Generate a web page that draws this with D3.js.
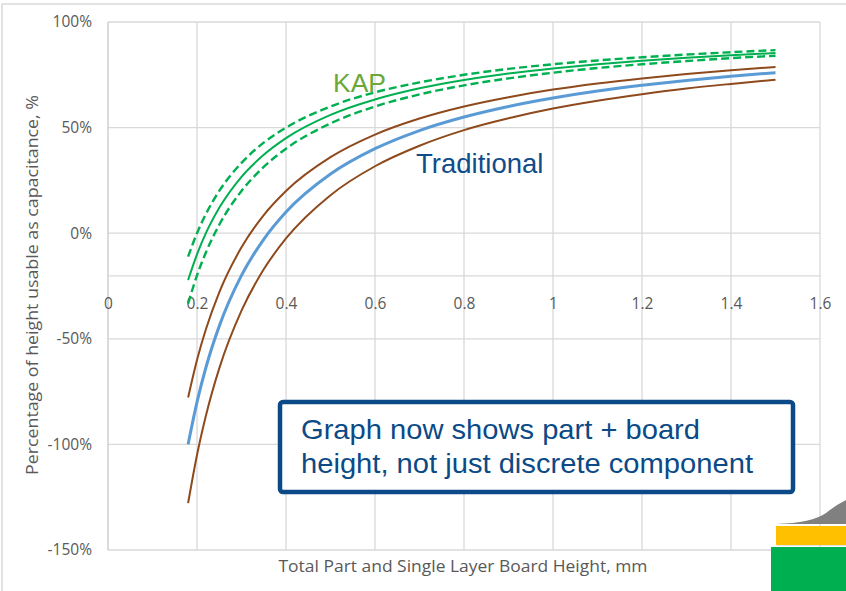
<!DOCTYPE html>
<html>
<head>
<meta charset="utf-8">
<script src="https://cdn.jsdelivr.net/npm/d3@7"></script>
<style>
  body { margin: 0; background: #fff; }
  svg { display: block; }
  .tick text { fill: #595959; font-family: "Open Sans", sans-serif; font-size: 15.5px; }
</style>
</head>
<body>
<div id="chart"></div>
<script>
// part + board height, mm
var heights = [0.18, 0.2, 0.22, 0.25, 0.3, 0.35, 0.4, 0.5, 0.6, 0.7, 0.8, 0.9, 1.0, 1.1, 1.2, 1.3, 1.4, 1.5];

// percentage of height usable as capacitance
var kapHigh  = [-11.1, 0, 9.1, 20, 33.3, 42.9, 50, 60, 66.7, 71.4, 75, 77.8, 80, 81.8, 83.3, 84.6, 85.7, 86.7];
var kapMid   = [-22.2, -10, 0, 12, 26.7, 37.1, 45, 56, 63.3, 68.6, 72.5, 75.6, 78, 80, 81.7, 83.1, 84.3, 85.3];
var kapLow   = [-33.3, -20, -9.1, 4, 20, 31.4, 40, 52, 60, 65.7, 70, 73.3, 76, 78.2, 80, 81.5, 82.9, 84];
var tradHigh = [-77.8, -60, -45.5, -28, -6.7, 8.6, 20, 36, 46.7, 54.3, 60, 64.4, 68, 70.9, 73.3, 75.4, 77.1, 78.7];
var tradMid  = [-100, -80, -63.6, -44, -20, -2.9, 10, 28, 40, 48.6, 55, 60, 64, 67.3, 70, 72.3, 74.3, 76];
var tradLow  = [-127.8, -105, -86.4, -64, -36.7, -17.1, -2.5, 18, 31.7, 41.4, 48.8, 54.4, 59, 62.7, 65.8, 68.5, 70.7, 72.7];

var xTicks = [0, 0.2, 0.4, 0.6, 0.8, 1, 1.2, 1.4, 1.6];
var yTicks = [-150, -100, -50, 0, 50, 100];

var W = 846, H = 591;
var svg = d3.select("#chart").append("svg").attr("width", W).attr("height", H);

// chart area frame
svg.append("rect").attr("x", 2).attr("y", 4).attr("width", 900).attr("height", 700)
	.attr("fill", "#fff").attr("stroke", "#d9d9d9").attr("stroke-width", 1.5);

var x = d3.scaleLinear().domain([0, 1.6]).range([108, 820]);
var y = d3.scaleLinear().domain([-150, 100]).range([550, 22]);

// grid
svg.append("g").selectAll("line").data(yTicks).enter().append("line")
	.attr("x1", x(0)).attr("x2", x(1.6))
	.attr("y1", d => y(d)).attr("y2", d => y(d))
	.attr("stroke", "#d9d9d9").attr("stroke-width", 1.3);
svg.append("g").selectAll("line").data(xTicks).enter().append("line")
	.attr("x1", d => x(d)).attr("x2", d => x(d))
	.attr("y1", y(100)).attr("y2", y(-150))
	.attr("stroke", d => d == 0 ? "#c8c8c8" : "#d9d9d9").attr("stroke-width", 1.3);

// axes: x crosses at -20%
var xAxis = svg.append("g").attr("transform", "translate(0," + y(-20) + ")")
	.call(d3.axisBottom(x).tickValues(xTicks).tickSize(0).tickPadding(23).tickFormat(d3.format("~g")));
xAxis.select(".domain").attr("stroke", "#d9d9d9").attr("stroke-width", 1.3);

var yAxis = svg.append("g").attr("transform", "translate(" + x(0) + ",0)")
	.call(d3.axisLeft(y).tickValues(yTicks).tickSize(0).tickPadding(16).tickFormat(d => d + "%"));
yAxis.select(".domain").remove();

// curves
var line = d3.line()
	.x((d, i) => x(heights[i]))
	.y(d => y(d))
	.curve(d3.curveMonotoneX);

var series = [
	{v: kapHigh,  color: "#00b050", w: 2.4, dash: "8,4"},
	{v: kapLow,   color: "#00b050", w: 2.4, dash: "8,4"},
	{v: kapMid,   color: "#00b050", w: 2,   dash: null},
	{v: tradHigh, color: "#8e4a1c", w: 2,   dash: null},
	{v: tradLow,  color: "#8e4a1c", w: 2,   dash: null},
	{v: tradMid,  color: "#5b9bd5", w: 3,   dash: null}
];

svg.append("g").selectAll("path").data(series).enter().append("path")
	.attr("d", d => line(d.v))
	.attr("fill", "none")
	.attr("stroke", d => d.color)
	.attr("stroke-width", d => d.w)
	.attr("stroke-dasharray", d => d.dash);

// axis titles
svg.append("text")
	.attr("transform", "translate(38,285) rotate(-90)")
	.attr("text-anchor", "middle")
	.attr("textLength", 380).attr("lengthAdjust", "spacingAndGlyphs")
	.attr("font-family", "Open Sans, sans-serif").attr("font-size", 16)
	.attr("fill", "#595959")
	.text("Percentage of height usable as capacitance, %");

svg.append("text")
	.attr("x", 463).attr("y", 572)
	.attr("text-anchor", "middle")
	.attr("textLength", 369).attr("lengthAdjust", "spacingAndGlyphs")
	.attr("font-family", "Open Sans, sans-serif").attr("font-size", 16.5)
	.attr("fill", "#595959")
	.text("Total Part and Single Layer Board Height, mm");

// series labels
svg.append("text").attr("x", 333).attr("y", 92)
	.attr("font-family", "Liberation Sans, Arial, sans-serif").attr("font-size", 26.5)
	.attr("fill", "#6aa83a").text("KAP");
svg.append("text").attr("x", 416).attr("y", 173)
	.attr("font-family", "Liberation Sans, Arial, sans-serif").attr("font-size", 27.5)
	.attr("fill", "#0f4c8a").text("Traditional");

// note box
svg.append("rect").attr("x", 280).attr("y", 402).attr("width", 513).attr("height", 90)
	.attr("rx", 3).attr("fill", "#fff").attr("stroke", "#0b4a86").attr("stroke-width", 4.5);
var note = ["Graph now shows part + board", "height, not just discrete component"];
var noteW = [399, 452];
svg.append("g").selectAll("text").data(note).enter().append("text")
	.attr("x", 301).attr("y", (d, i) => 439 + i * 34)
	.attr("textLength", (d, i) => noteW[i]).attr("lengthAdjust", "spacingAndGlyphs")
	.attr("font-family", "Liberation Sans, Arial, sans-serif").attr("font-size", 27.5)
	.attr("fill", "#0b4a86")
	.text(d => d);

// slide corner decoration
svg.append("path").attr("d", "M776,524 Q812,523 826,513 Q836,505 846,500 L846,524 Z").attr("fill", "#808080");
svg.append("rect").attr("x", 777).attr("y", 527).attr("width", 70).attr("height", 19).attr("fill", "#c8c8c8").attr("opacity", 0.5);
svg.append("rect").attr("x", 776).attr("y", 526).attr("width", 70).attr("height", 19).attr("fill", "#ffc000");
svg.append("rect").attr("x", 771).attr("y", 547).attr("width", 75).attr("height", 44).attr("fill", "#00b050");
</script>
</body>
</html>
